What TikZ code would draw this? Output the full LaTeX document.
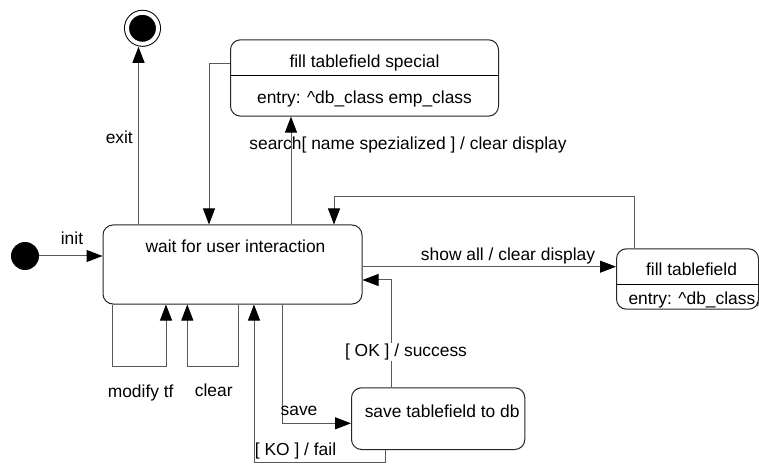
\documentclass[tikz,border=0pt]{standalone}
\usepackage{fontspec}
\setmainfont{Liberation Sans}
\usetikzlibrary{arrows.meta}
\begin{document}
\begin{tikzpicture}[x=1bp,y=-1bp,
  every node/.style={font=\fontsize{17.4bp}{21bp}\selectfont},
  statebox/.style={draw=black!85, line width=1bp, rounded corners=10bp, anchor=north west},
  conn/.style={draw=black!65, line width=1bp, -{Triangle[length=16bp,width=12bp,color=black]}},
  lbl/.style={anchor=base, inner sep=1bp}
]
\fill[white] (0,0) rectangle (759,465);
\useasboundingbox (0,0) rectangle (759,465);

% states
\node[circle, fill=black, minimum size=28bp, inner sep=0] (init) at (25,256) {};
\node[circle, fill=black, draw=black, line width=1bp, double=white, double distance=4bp,
      minimum size=31bp, inner sep=0, outer sep=3bp] (final) at (142.5,28.3) {};

\node[statebox, minimum width=259bp, text height=13bp, text depth=36.4bp, inner ysep=14.8bp]
  (wait) at (102.5,224.5) {\hspace*{6bp}wait for user interaction};

\node[statebox, inner sep=0pt] (fts) at (230,39.3)
  {\parbox{268bp}{\centering
   \rule[-7.6bp]{0pt}{35bp}fill tablefield special\par
   \hrule height 0.5bp depth 0.5bp
   \rule[-12.3bp]{0pt}{40.3bp}entry: \textasciicircum db\_class emp\_class}};

\node[statebox, inner sep=0pt] (ft) at (616,248.3)
  {\parbox{142bp}{\centering
   \rule[-8.3bp]{0pt}{35bp}\hspace*{8bp}fill tablefield\par
   \hrule height 0.5bp depth 0.5bp
   \raggedright
   \rule[-5.2bp]{0pt}{24.4bp}\hspace*{12bp}\rlap{entry: \textasciicircum db\_class,}}};

\node[statebox, minimum width=173.3bp, text height=13bp, text depth=16.3bp, inner ysep=16.2bp]
  (save) at (351,387.3) {\hspace*{8bp}save tablefield to db};

% helper coordinates
\coordinate (ex) at (138.5,0);
\coordinate (sx) at (291,0);
\coordinate (r1) at (209,64);
\coordinate (r2) at (634,196.7);
\coordinate (r3) at (334,196.7);
\coordinate (sa) at (0,266.7);
\coordinate (m1) at (112.7,366);
\coordinate (m2) at (166,366);
\coordinate (c1) at (238.7,366);
\coordinate (c2) at (187.3,366);
\coordinate (s1) at (282.3,423.3);
\coordinate (k1) at (385,462.7);
\coordinate (k2) at (254,462.7);
\coordinate (o1) at (391.7,280);

% connectors
\draw[conn] (init) -- (wait.west |- init);
\draw[conn] (wait.north -| ex) -- (final.south -| ex);
\draw[conn] (wait.north -| sx) -- (fts.south -| sx);
\draw[conn] (fts.west |- r1) -- (r1) -- (wait.north -| r1);
\draw[conn] (ft.north -| r2) -- (r2) -- (r3) -- (wait.north -| r3);
\draw[conn] (wait.east |- sa) -- (ft.west |- sa);
\draw[conn] (wait.south -| m1) -- (m1) -- (m2) -- (wait.south -| m2);
\draw[conn] (wait.south -| c1) -- (c1) -- (c2) -- (wait.south -| c2);
\draw[conn] (wait.south -| s1) -- (s1) -- (save.west |- s1);
\draw[conn] (save.south -| k1) -- (k1) -- (k2) -- (wait.south -| k2);
\draw[conn] (save.north -| o1) -- (o1) -- (wait.east |- o1);

% labels
\node[lbl] (linit) at (72,244.5) {init};
\node[lbl] (lexit) at (119.3,143.3) {exit};
\node[lbl] (lsearch) at (408,149.4) {search[ name spezialized ] / clear display};
\node[lbl] (lshow) at (508,261) {show all / clear display};
\node[lbl, fill=white] (lok) at (406,356.7) {[ OK ] / success};
\node[lbl] (lmod) at (140.7,397.7) {modify tf};
\node[lbl] (lclear) at (213.7,396) {clear};
\node[lbl] (lsave) at (299,415) {save};
\node[lbl] (lko) at (295.5,455) {[ KO ] / fail};
\end{tikzpicture}
\end{document}
